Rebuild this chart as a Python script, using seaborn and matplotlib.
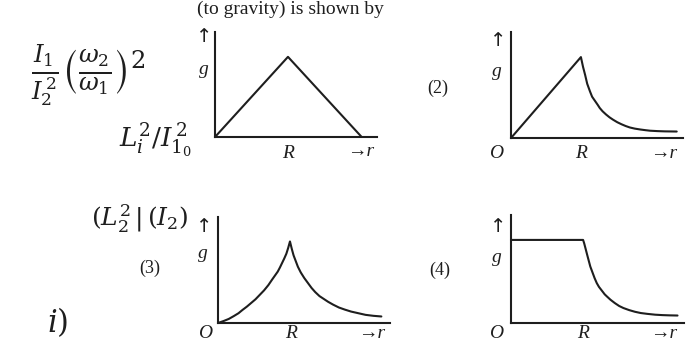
import matplotlib
matplotlib.use("Agg")
import matplotlib.pyplot as plt
import seaborn as sns
import pandas as pd

# ---- data (r in units of R, g in units of peak value) ----
p1_r = [0.0, 1.0, 2.01]
p1_g = [0.0, 1.0, 0.0]

p2_r = [0.0, 1.0, 1.015, 1.03, 1.045, 1.06, 1.09, 1.13, 1.16, 1.20, 1.24, 1.27, 1.31, 1.36, 1.41, 1.46,
        1.52, 1.58, 1.64, 1.70, 1.77, 1.85, 1.92, 1.99, 2.1, 2.2, 2.37]
p2_g = [0.0, 1.0, 0.94, 0.88, 0.83, 0.78, 0.67, 0.575, 0.51, 0.46, 0.41, 0.37, 0.33, 0.29, 0.255, 0.226,
        0.195, 0.17, 0.148, 0.13, 0.116, 0.105, 0.097, 0.09, 0.085, 0.082, 0.08]

p3_r = [0.0, 0.08, 0.15, 0.22, 0.285, 0.34, 0.40, 0.46, 0.52, 0.58, 0.64, 0.70, 0.75, 0.79, 0.83, 0.86,
        0.89, 0.92, 0.95, 0.975, 1.0, 1.025, 1.05, 1.08, 1.11, 1.15, 1.20, 1.25, 1.30, 1.35, 1.41, 1.47,
        1.53, 1.60, 1.68, 1.76, 1.85, 1.95, 2.05, 2.16, 2.27]
p3_g = [0.0, 0.025, 0.05, 0.085, 0.12, 0.16, 0.20, 0.245, 0.29, 0.345, 0.40, 0.465, 0.53, 0.58, 0.63, 0.68,
        0.735, 0.79, 0.85, 0.92, 1.0, 0.91, 0.83, 0.76, 0.69, 0.62, 0.55, 0.49, 0.43, 0.38, 0.33, 0.295,
        0.26, 0.225, 0.19, 0.165, 0.14, 0.12, 0.10, 0.088, 0.08]

p4_r = [0.0, 1.0, 1.015, 1.03, 1.045, 1.06, 1.08, 1.10, 1.13, 1.16, 1.19, 1.22, 1.26, 1.30, 1.33, 1.38,
        1.44, 1.50, 1.56, 1.64, 1.72, 1.80, 1.89, 2.0, 2.1, 2.2, 2.31]
p4_g = [1.0, 1.0, 0.96, 0.91, 0.86, 0.81, 0.745, 0.68, 0.61, 0.54, 0.48, 0.435, 0.39, 0.345, 0.32, 0.28,
        0.24, 0.205, 0.18, 0.155, 0.135, 0.12, 0.11, 0.1, 0.095, 0.092, 0.09]

panel_labels = ["(2)", "(3)", "(4)"]

W, H = 686, 350
fig = plt.figure(figsize=(W / 100, H / 100), dpi=100)
fig.patch.set_facecolor("white")
sns.set_style("white")
plt.rcParams["font.family"] = ["Liberation Serif", "DejaVu Serif"]
plt.rcParams["mathtext.fontset"] = "dejavuserif"

INK = "#1e1e1e"
SERIF = ["Liberation Serif", "DejaVu Serif"]


def fx(px):
    return px / W


def fy(py):
    return 1 - py / H


def txt(px, py, s, size=13, style="italic", family=SERIF):
    fig.text(fx(px), fy(py), s, fontsize=size, style=style, color=INK,
             ha="center", va="center", family=family)


def up_arrow(px, py):
    txt(px, py, "↑", 14, style="normal", family=["DejaVu Sans"])


def panel(r, g, left, base, right, top, rmax, gmax):
    ax = fig.add_axes([fx(left), fy(base), (right - left) / W, (base - top) / H])
    df = pd.DataFrame({"r": r, "g": g})
    sns.lineplot(data=df, x="r", y="g", ax=ax, color=INK, lw=1.5,
                 estimator=None, sort=False)
    for ln in ax.lines:
        ln.set_clip_on(False)
    ax.set_xlim(0, rmax)
    ax.set_ylim(0, gmax)
    ax.set_xticks([])
    ax.set_yticks([])
    ax.set_xlabel("")
    ax.set_ylabel("")
    for s in ["top", "right"]:
        ax.spines[s].set_visible(False)
    for s in ["left", "bottom"]:
        ax.spines[s].set_color(INK)
        ax.spines[s].set_linewidth(1.5)
    ax.patch.set_alpha(0)
    return ax


# panel 1
panel(p1_r, p1_g, 215, 137, 377, 32, 2.22, 1.31)
up_arrow(204, 37)
txt(204, 70, "g", 14)
txt(288, 153, "R", 14)
txt(361, 152, "→r", 14)

# panel 2
panel(p2_r, p2_g, 511, 138, 683, 32, 2.46, 1.31)
up_arrow(498, 40)
txt(497, 72, "g", 14)
txt(496, 153, "O", 14)
txt(581, 153, "R", 14)
txt(664, 153, "→r", 14)
txt(438, 88, panel_labels[0], 13, style="normal")

# panel 3
panel(p3_r, p3_g, 218, 323, 390, 217, 2.39, 1.30)
up_arrow(204, 226)
txt(203, 253, "g", 14)
txt(205, 334, "O", 14)
txt(291, 334, "R", 14)
txt(372, 334, "→r", 14)
txt(150, 268, panel_labels[1], 13, style="normal")

# panel 4
panel(p4_r, p4_g, 511, 323, 684, 215, 2.40, 1.30)
up_arrow(498, 226)
txt(497, 258, "g", 14)
txt(496, 334, "O", 14)
txt(583, 334, "R", 14)
txt(664, 334, "→r", 14)
txt(440, 270, panel_labels[2], 13, style="normal")

# header (near the top edge, as in the scan)
txt(290, 9, "(to gravity) is shown by", 14, style="normal")

# handwritten notes
fig.text(fx(88), fy(75), r"$\frac{I_1}{I_2^{\,2}}\left(\frac{\omega_2}{\omega_1}\right)^2$",
         fontsize=25, color=INK, ha="center", va="center")
fig.text(fx(155), fy(140), r"$L_i^2/I_{1_0}^{\,2}$", fontsize=19, color=INK,
         ha="center", va="center")
fig.text(fx(140), fy(218), r"$(L_2^2\,|\,(I_2)$", fontsize=18, color=INK,
         ha="center", va="center")
fig.text(fx(58), fy(322), r"$i)$", fontsize=22, color=INK, ha="center", va="center")

fig.savefig("out.png", dpi=100, facecolor="white")
